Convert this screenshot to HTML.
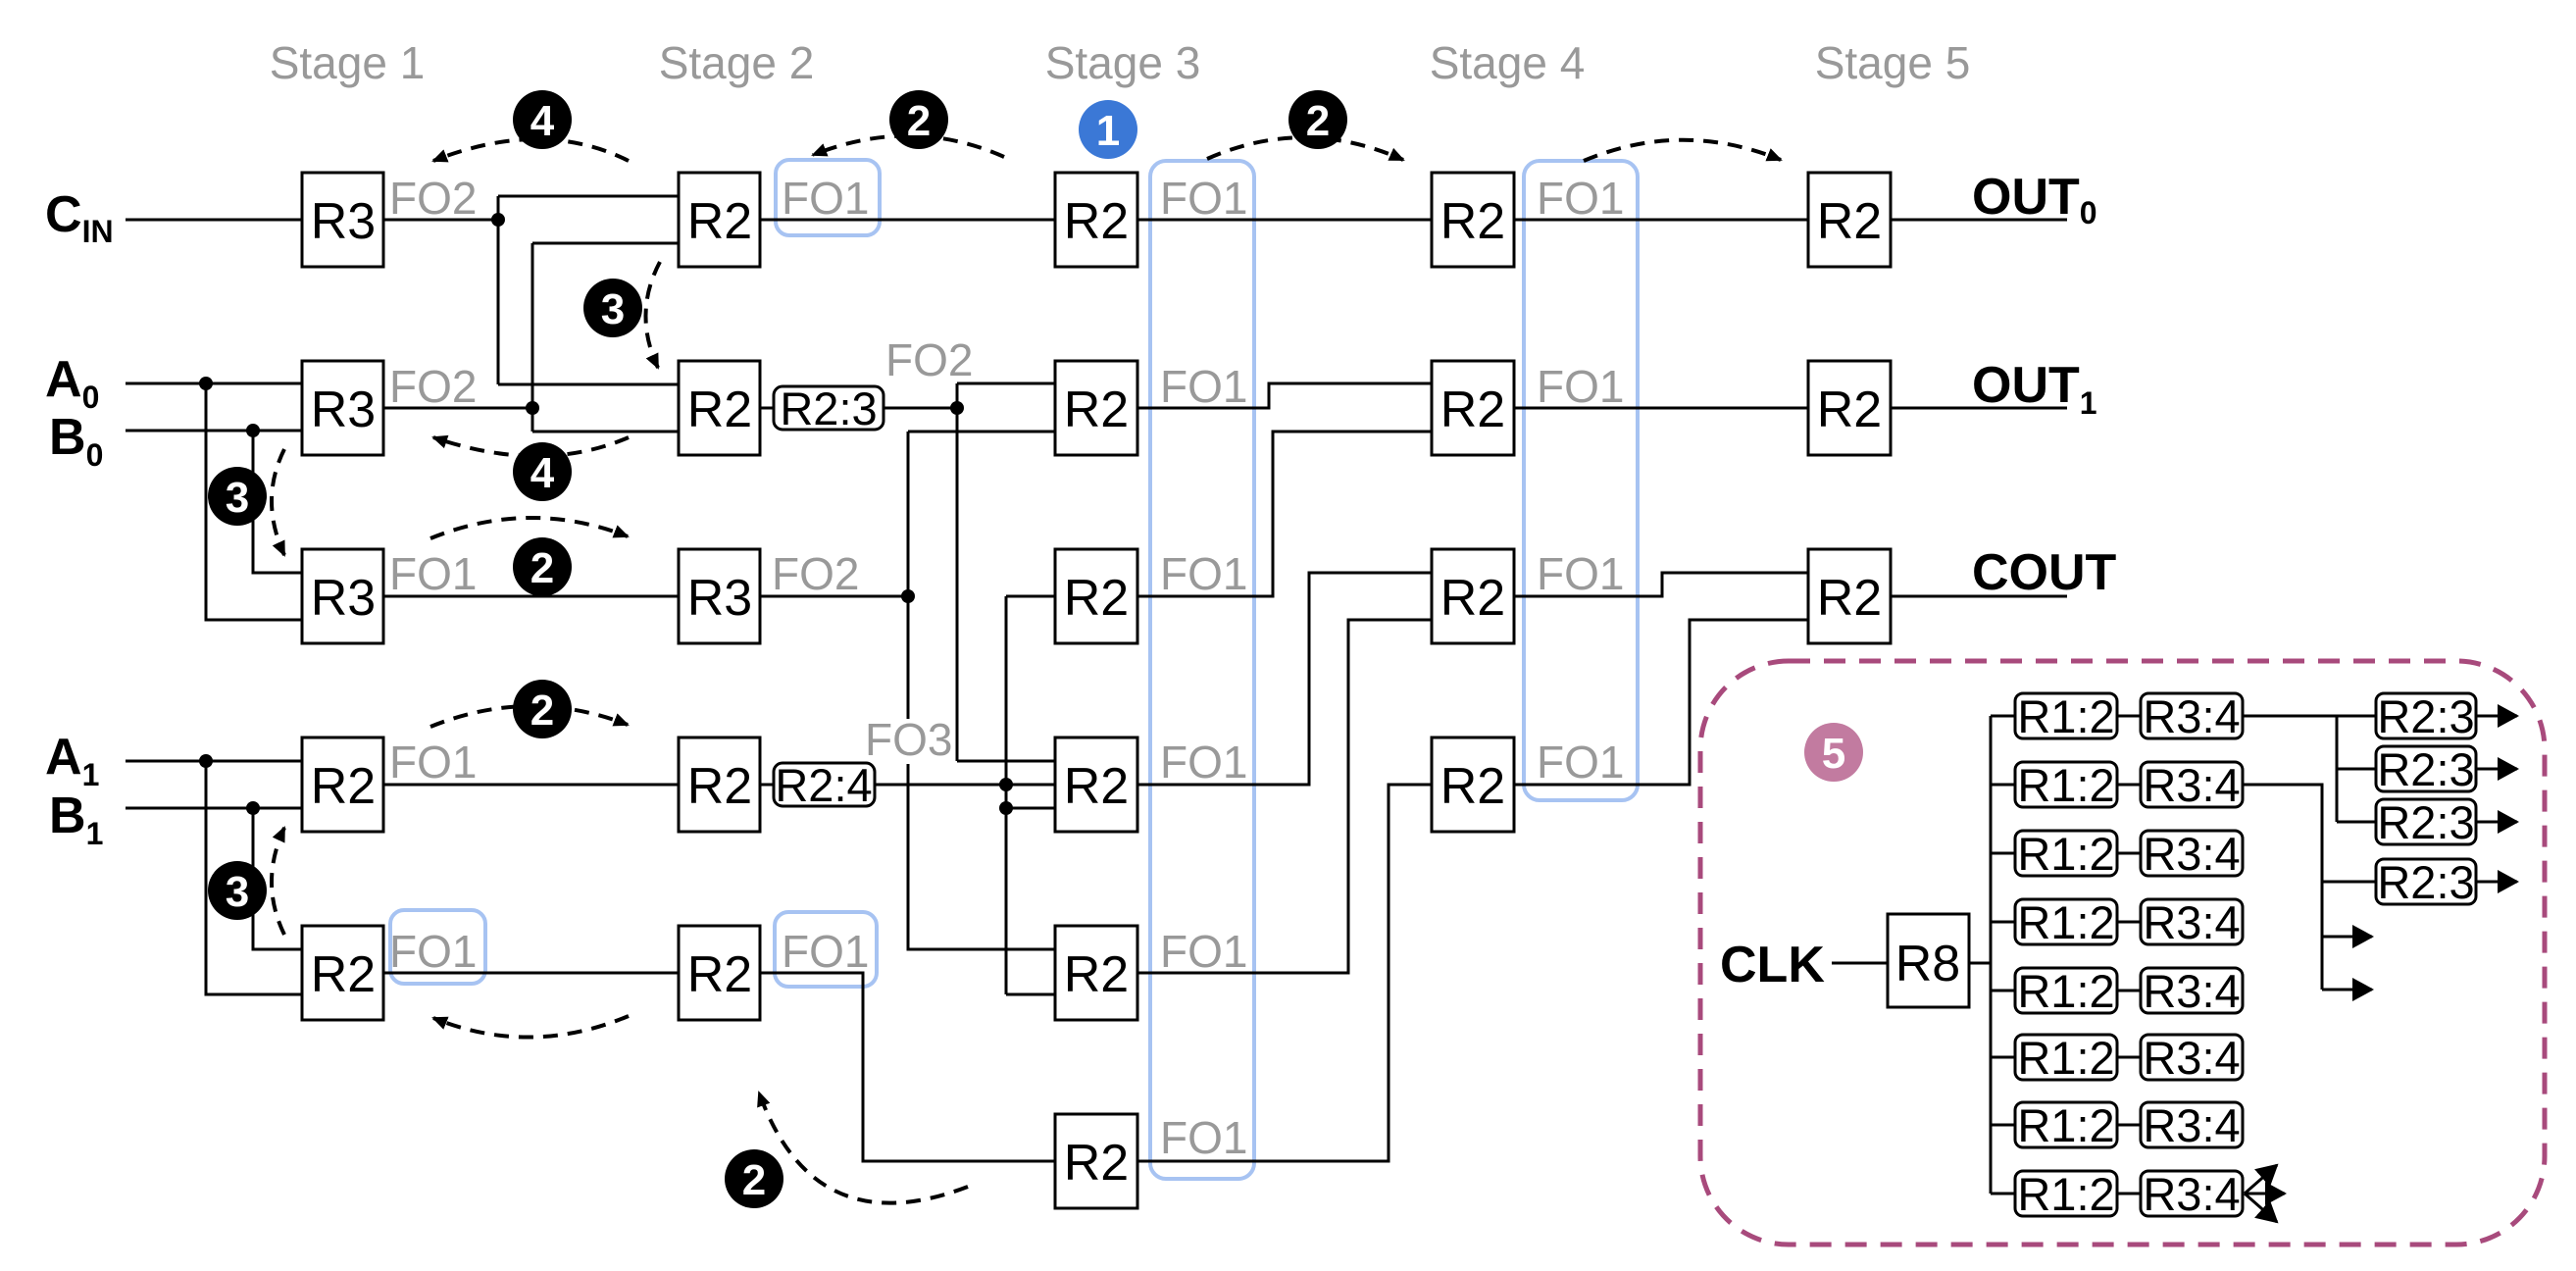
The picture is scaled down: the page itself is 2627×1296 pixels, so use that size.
<!DOCTYPE html>
<html><head><meta charset="utf-8"><style>
html,body{margin:0;padding:0;background:#fff}
svg{display:block}
text{font-family:"Liberation Sans",Arial,sans-serif}
.st{font-size:46px;fill:#999;text-anchor:middle}
.fo{font-size:46px;fill:#999}
.bx{font-size:52px;fill:#000;text-anchor:middle}
.sm{font-size:47px;fill:#000;text-anchor:middle}
.lb{font-size:52px;font-weight:bold;fill:#000}
.sub{font-size:32px;font-weight:bold}
.num{font-size:44px;font-weight:bold;fill:#fff;text-anchor:middle}
</style></head><body>
<svg width="2627" height="1296" viewBox="0 0 2627 1296" xmlns="http://www.w3.org/2000/svg">
<defs>
<marker id="ah" markerUnits="userSpaceOnUse" markerWidth="18" markerHeight="16" refX="14" refY="8" orient="auto"><path d="M0,1 L16,8 L0,15 Z" fill="#000"/></marker>
<marker id="ab" markerUnits="userSpaceOnUse" markerWidth="26" markerHeight="26" refX="20" refY="12" orient="auto"><path d="M0,0 L22,12 L0,24 Z" fill="#000"/></marker>
</defs>

<!-- stage labels -->
<text class="st" x="354" y="80">Stage 1</text>
<text class="st" x="751" y="80">Stage 2</text>
<text class="st" x="1145" y="80">Stage 3</text>
<text class="st" x="1537" y="80">Stage 4</text>
<text class="st" x="1930" y="80">Stage 5</text>

<!-- blue highlight boxes -->
<g fill="none" stroke="#a7c3f2" stroke-width="4">
<rect x="791" y="163" width="106" height="77" rx="14"/>
<rect x="398" y="928" width="97" height="75" rx="14"/>
<rect x="790" y="930" width="104" height="76" rx="14"/>
<rect x="1173" y="164" width="106" height="1038" rx="16"/>
<rect x="1554" y="164" width="116" height="652" rx="16"/>
</g>

<!-- wires -->
<g fill="none" stroke="#000" stroke-width="3">
<path d="M128,224 H308"/>
<path d="M391,224 H508 M508,200 V392 M508,200 H692 M508,392 H692"/>
<path d="M391,416 H543 M543,248 V440 M543,248 H692 M543,440 H692"/>
<path d="M128,391 H308 M128,439 H308 M210,391 V632 H308 M258,439 V584 H308"/>
<path d="M391,608 H692"/>
<path d="M128,776 H308 M128,824 H308 M210,776 V1014 H308 M258,824 V968 H308"/>
<path d="M391,800 H692 M391,992 H692"/>
<path d="M775,224 H1076"/>
<path d="M775,416 H789 M901,416 H976 M976,391 V776 M976,391 H1076 M976,776 H1076"/>
<path d="M775,608 H926 M926,440 V968 H1076 M926,440 H1076"/>
<path d="M775,800 H789 M892,800 H1076 M1026,608 V1014 M1026,608 H1076 M1026,824 H1076 M1026,1014 H1076"/>
<path d="M775,992 H880 V1184 H1076"/>
<path d="M1160,224 H1460"/>
<path d="M1160,416 H1294 V391 H1460"/>
<path d="M1160,608 H1298 V440 H1460"/>
<path d="M1160,800 H1335 V584 H1460"/>
<path d="M1160,992 H1375 V632 H1460"/>
<path d="M1160,1184 H1416 V800 H1460"/>
<path d="M1544,224 H1844 M1544,416 H1844 M1544,608 H1695 V584 H1844 M1544,800 H1723 V632 H1844"/>
<path d="M1928,224 H2108 M1928,416 H2108 M1928,608 H2108"/>
</g>
<g fill="#000">
<circle cx="508" cy="224" r="7"/><circle cx="543" cy="416" r="7"/>
<circle cx="210" cy="391" r="7"/><circle cx="258" cy="439" r="7"/>
<circle cx="210" cy="776" r="7"/><circle cx="258" cy="824" r="7"/>
<circle cx="976" cy="416" r="7"/><circle cx="926" cy="608" r="7"/>
<circle cx="1026" cy="800" r="7"/><circle cx="1026" cy="824" r="7"/>
</g>

<!-- boxes -->
<g fill="#fff" stroke="#000" stroke-width="3">
<rect x="308" y="176" width="83" height="96"/><rect x="308" y="368" width="83" height="96"/><rect x="308" y="560" width="83" height="96"/><rect x="308" y="752" width="83" height="96"/><rect x="308" y="944" width="83" height="96"/>
<rect x="692" y="176" width="83" height="96"/><rect x="692" y="368" width="83" height="96"/><rect x="692" y="560" width="83" height="96"/><rect x="692" y="752" width="83" height="96"/><rect x="692" y="944" width="83" height="96"/>
<rect x="1076" y="176" width="84" height="96"/><rect x="1076" y="368" width="84" height="96"/><rect x="1076" y="560" width="84" height="96"/><rect x="1076" y="752" width="84" height="96"/><rect x="1076" y="944" width="84" height="96"/><rect x="1076" y="1136" width="84" height="96"/>
<rect x="1460" y="176" width="84" height="96"/><rect x="1460" y="368" width="84" height="96"/><rect x="1460" y="560" width="84" height="96"/><rect x="1460" y="752" width="84" height="96"/>
<rect x="1844" y="176" width="84" height="96"/><rect x="1844" y="368" width="84" height="96"/><rect x="1844" y="560" width="84" height="96"/>
<rect x="789" y="394" width="112" height="44" rx="9"/>
<rect x="789" y="778" width="103" height="44" rx="9"/>
</g>
<g class="bx">
<text class="bx" x="350" y="243">R3</text><text class="bx" x="350" y="435">R3</text><text class="bx" x="350" y="627">R3</text><text class="bx" x="350" y="819">R2</text><text class="bx" x="350" y="1011">R2</text>
<text class="bx" x="734" y="243">R2</text><text class="bx" x="734" y="435">R2</text><text class="bx" x="734" y="627">R3</text><text class="bx" x="734" y="819">R2</text><text class="bx" x="734" y="1011">R2</text>
<text class="bx" x="1118" y="243">R2</text><text class="bx" x="1118" y="435">R2</text><text class="bx" x="1118" y="627">R2</text><text class="bx" x="1118" y="819">R2</text><text class="bx" x="1118" y="1011">R2</text><text class="bx" x="1118" y="1203">R2</text>
<text class="bx" x="1502" y="243">R2</text><text class="bx" x="1502" y="435">R2</text><text class="bx" x="1502" y="627">R2</text><text class="bx" x="1502" y="819">R2</text>
<text class="bx" x="1886" y="243">R2</text><text class="bx" x="1886" y="435">R2</text><text class="bx" x="1886" y="627">R2</text>
</g>
<text class="sm" x="845" y="433">R2:3</text>
<text class="sm" x="840" y="817">R2:4</text>

<!-- FO labels -->
<g class="fo">
<text class="fo" x="397" y="218">FO2</text><text class="fo" x="397" y="410">FO2</text><text class="fo" x="397" y="601">FO1</text><text class="fo" x="397" y="793">FO1</text><text class="fo" x="397" y="986">FO1</text>
<text class="fo" x="797" y="218">FO1</text><text class="fo" x="787" y="601">FO2</text><text class="fo" x="797" y="986">FO1</text>
<text class="fo" x="903" y="383">FO2</text>
<text class="fo" x="1183" y="218">FO1</text><text class="fo" x="1183" y="410">FO1</text><text class="fo" x="1183" y="601">FO1</text><text class="fo" x="1183" y="793">FO1</text><text class="fo" x="1183" y="986">FO1</text><text class="fo" x="1183" y="1176">FO1</text>
<text class="fo" x="1567" y="218">FO1</text><text class="fo" x="1567" y="410">FO1</text><text class="fo" x="1567" y="601">FO1</text><text class="fo" x="1567" y="793">FO1</text>
</g>
<rect x="916" y="733" width="20" height="46" fill="#fff"/>
<text class="fo" x="882" y="770">FO3</text>

<!-- input/output labels -->
<text class="lb" x="46" y="236">C<tspan class="sub" dy="11">IN</tspan></text>
<text class="lb" x="46" y="404">A<tspan class="sub" dy="12">0</tspan></text>
<text class="lb" x="50" y="463">B<tspan class="sub" dy="12">0</tspan></text>
<text class="lb" x="46" y="789">A<tspan class="sub" dy="12">1</tspan></text>
<text class="lb" x="50" y="849">B<tspan class="sub" dy="12">1</tspan></text>
<text class="lb" x="2011" y="218">OUT<tspan class="sub" dy="10">0</tspan></text>
<text class="lb" x="2011" y="410">OUT<tspan class="sub" dy="12">1</tspan></text>
<text class="lb" x="2011" y="601">COUT</text>

<!-- annotation arcs -->
<g fill="none" stroke="#000" stroke-width="4" stroke-dasharray="15 10">
<path d="M641,164 Q553,120 442,164" marker-end="url(#ah)"/>
<path d="M1024,160 Q930,118 829,158" marker-end="url(#ah)"/>
<path d="M1231,162 Q1330,118 1431,163" marker-end="url(#ah)"/>
<path d="M1615,164 Q1715,122 1816,163" marker-end="url(#ah)"/>
<path d="M673,267 Q645,320 671,375" marker-end="url(#ah)"/>
<path d="M641,446 Q553,484 442,446" marker-end="url(#ah)"/>
<path d="M290,458 Q264,510 290,566" marker-end="url(#ah)"/>
<path d="M439,549 Q540,508 640,547" marker-end="url(#ah)"/>
<path d="M439,741 Q540,700 640,739" marker-end="url(#ah)"/>
<path d="M290,953 Q264,900 290,844" marker-end="url(#ah)"/>
<path d="M641,1036 Q540,1078 442,1038" marker-end="url(#ah)"/>
<path d="M987,1210 Q830,1270 774,1114" marker-end="url(#ah)"/>
</g>
<g>
<circle cx="553" cy="122" r="30" fill="#000"/><text class="num" x="553" y="138">4</text>
<circle cx="937" cy="122" r="30" fill="#000"/><text class="num" x="937" y="138">2</text>
<circle cx="1130" cy="132" r="30" fill="#3b78d6"/><text class="num" x="1130" y="148">1</text>
<circle cx="1344" cy="122" r="30" fill="#000"/><text class="num" x="1344" y="138">2</text>
<circle cx="625" cy="314" r="30" fill="#000"/><text class="num" x="625" y="330">3</text>
<circle cx="553" cy="481" r="30" fill="#000"/><text class="num" x="553" y="497">4</text>
<circle cx="242" cy="506" r="30" fill="#000"/><text class="num" x="242" y="522">3</text>
<circle cx="553" cy="578" r="30" fill="#000"/><text class="num" x="553" y="594">2</text>
<circle cx="553" cy="723" r="30" fill="#000"/><text class="num" x="553" y="739">2</text>
<circle cx="242" cy="908" r="30" fill="#000"/><text class="num" x="242" y="924">3</text>
<circle cx="769" cy="1202" r="30" fill="#000"/><text class="num" x="769" y="1218">2</text>
</g>

<!-- clock tree -->
<rect x="1734" y="674" width="861" height="595" rx="90" fill="none" stroke="#a84a7c" stroke-width="5" stroke-dasharray="22 14"/>
<circle cx="1870" cy="767" r="30" fill="#c27ba0"/><text class="num" x="1870" y="783">5</text>
<text class="lb" x="1754" y="1001">CLK</text>
<g fill="none" stroke="#000" stroke-width="3">
<path d="M1868,982 H1925 M2008,982 H2030 M2030,730 V1217"/>
<path d="M2030,730 H2055 M2030,800 H2055 M2030,870 H2055 M2030,940 H2055 M2030,1010 H2055 M2030,1078 H2055 M2030,1147 H2055 M2030,1217 H2055"/>
<path d="M2159,730 H2183 M2159,800 H2183 M2159,870 H2183 M2159,940 H2183 M2159,1010 H2183 M2159,1078 H2183 M2159,1147 H2183 M2159,1217 H2183"/>
<path d="M2287,730 H2423 M2383,730 V838 M2383,784 H2423 M2383,838 H2423"/>
<path d="M2287,800 H2368 V1009 M2368,899 H2423"/>
</g>
<g fill="none" stroke="#000" stroke-width="3" marker-end="url(#ab)">
<path d="M2525,730 H2567"/><path d="M2525,784 H2567"/><path d="M2525,838 H2567"/><path d="M2525,899 H2567"/>
<path d="M2368,955 H2419"/><path d="M2368,1009 H2419"/>
<path d="M2289,1217 L2322,1188"/><path d="M2289,1217 L2330,1217"/><path d="M2289,1217 L2322,1246"/>
</g>
<rect x="1925" y="932" width="83" height="95" fill="#fff" stroke="#000" stroke-width="3"/>
<text class="bx" x="1966" y="1000">R8</text>
<g fill="#fff" stroke="#000" stroke-width="3">
<rect x="2055" y="707" width="104" height="46" rx="8"/><rect x="2183" y="707" width="104" height="46" rx="8"/>
<rect x="2055" y="777" width="104" height="46" rx="8"/><rect x="2183" y="777" width="104" height="46" rx="8"/>
<rect x="2055" y="847" width="104" height="46" rx="8"/><rect x="2183" y="847" width="104" height="46" rx="8"/>
<rect x="2055" y="917" width="104" height="46" rx="8"/><rect x="2183" y="917" width="104" height="46" rx="8"/>
<rect x="2055" y="987" width="104" height="46" rx="8"/><rect x="2183" y="987" width="104" height="46" rx="8"/>
<rect x="2055" y="1055" width="104" height="46" rx="8"/><rect x="2183" y="1055" width="104" height="46" rx="8"/>
<rect x="2055" y="1124" width="104" height="46" rx="8"/><rect x="2183" y="1124" width="104" height="46" rx="8"/>
<rect x="2055" y="1194" width="104" height="46" rx="8"/><rect x="2183" y="1194" width="104" height="46" rx="8"/>
<rect x="2423" y="707" width="102" height="46" rx="8"/><rect x="2423" y="761" width="102" height="46" rx="8"/>
<rect x="2423" y="815" width="102" height="46" rx="8"/><rect x="2423" y="876" width="102" height="46" rx="8"/>
</g>
<g>
<text class="sm" x="2107" y="747">R1:2</text><text class="sm" x="2235" y="747">R3:4</text>
<text class="sm" x="2107" y="817">R1:2</text><text class="sm" x="2235" y="817">R3:4</text>
<text class="sm" x="2107" y="887">R1:2</text><text class="sm" x="2235" y="887">R3:4</text>
<text class="sm" x="2107" y="957">R1:2</text><text class="sm" x="2235" y="957">R3:4</text>
<text class="sm" x="2107" y="1027">R1:2</text><text class="sm" x="2235" y="1027">R3:4</text>
<text class="sm" x="2107" y="1095">R1:2</text><text class="sm" x="2235" y="1095">R3:4</text>
<text class="sm" x="2107" y="1164">R1:2</text><text class="sm" x="2235" y="1164">R3:4</text>
<text class="sm" x="2107" y="1234">R1:2</text><text class="sm" x="2235" y="1234">R3:4</text>
<text class="sm" x="2474" y="747">R2:3</text><text class="sm" x="2474" y="801">R2:3</text>
<text class="sm" x="2474" y="855">R2:3</text><text class="sm" x="2474" y="916">R2:3</text>
</g>
</svg>
</body></html>
